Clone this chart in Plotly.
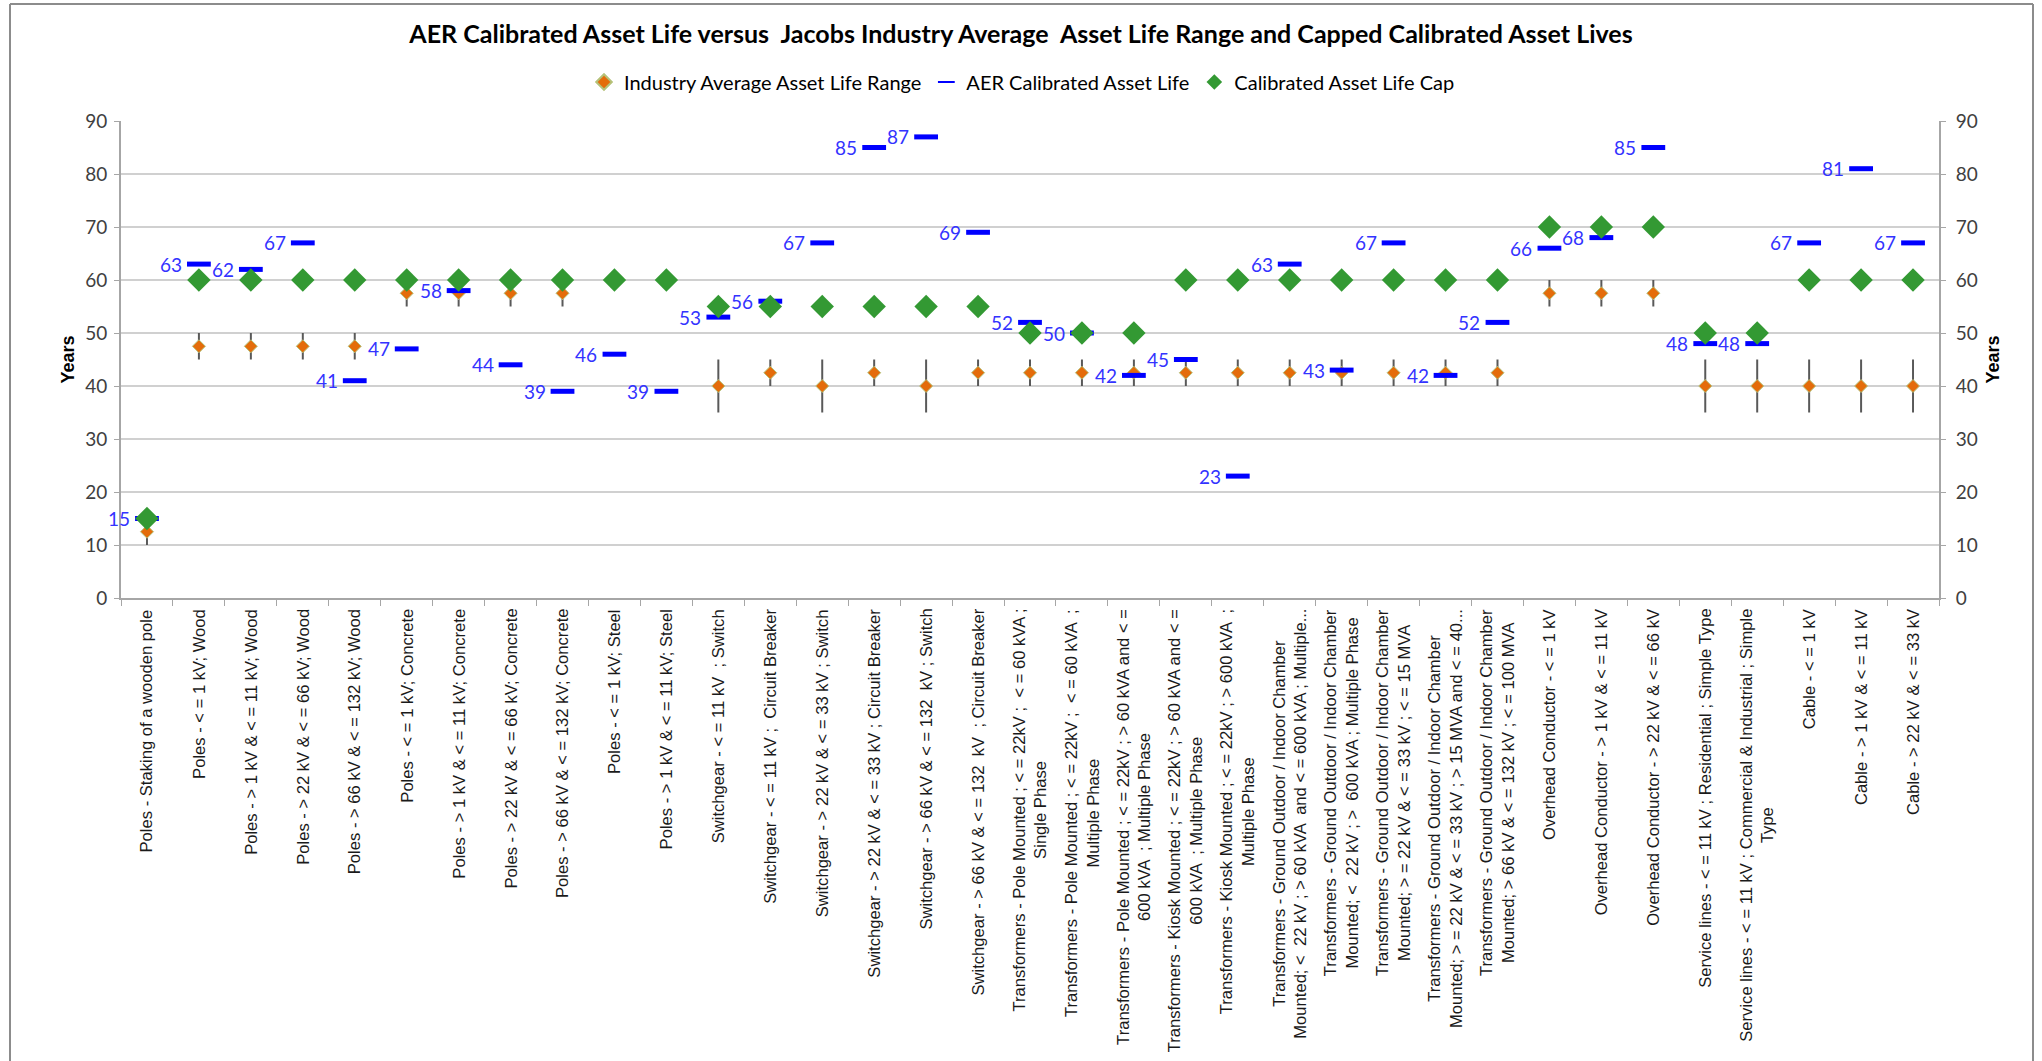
import plotly.graph_objects as go

# ---- data -------------------------------------------------------------
categories = [
    "Poles - Staking of a wooden pole",
    "Poles - < = 1 kV; Wood",
    "Poles - > 1 kV & < = 11 kV; Wood",
    "Poles - > 22 kV & < = 66 kV; Wood",
    "Poles - > 66 kV & < = 132 kV; Wood",
    "Poles - < = 1 kV; Concrete",
    "Poles - > 1 kV & < = 11 kV; Concrete",
    "Poles - > 22 kV & < = 66 kV; Concrete",
    "Poles - > 66 kV & < = 132 kV; Concrete",
    "Poles - < = 1 kV; Steel",
    "Poles - > 1 kV & < = 11 kV; Steel",
    "Switchgear - < = 11 kV  ; Switch",
    "Switchgear - < = 11 kV ;  Circuit Breaker",
    "Switchgear - > 22 kV & < = 33 kV ; Switch",
    "Switchgear - > 22 kV & < = 33 kV ; Circuit Breaker",
    "Switchgear - > 66 kV & < = 132  kV ; Switch",
    "Switchgear - > 66 kV & < = 132  kV  ; Circuit Breaker",
    "Transformers - Pole Mounted ; < = 22kV ;  < = 60 kVA ;<br>Single Phase",
    "Transformers - Pole Mounted ; < = 22kV ;  < = 60 kVA  ;<br>Multiple Phase",
    "Transformers - Pole Mounted ; < = 22kV ; > 60 kVA and < =<br>600 kVA  ; Multiple Phase",
    "Transformers - Kiosk Mounted ; < = 22kV ; > 60 kVA and < =<br>600 kVA  ; Multiple Phase",
    "Transformers - Kiosk Mounted ; < = 22kV ; > 600 kVA  ;<br>Multiple Phase",
    "Transformers - Ground Outdoor / Indoor Chamber<br>Mounted; <  22 kV ; > 60 kVA  and < = 600 kVA ; Multiple...",
    "Transformers - Ground Outdoor / Indoor Chamber<br>Mounted; <  22 kV ; >  600 kVA ; Multiple Phase",
    "Transformers - Ground Outdoor / Indoor Chamber<br>Mounted; > = 22 kV & < = 33 kV ; < = 15 MVA",
    "Transformers - Ground Outdoor / Indoor Chamber<br>Mounted; > = 22 kV & < = 33 kV ; > 15 MVA and < = 40...",
    "Transformers - Ground Outdoor / Indoor Chamber<br>Mounted; > 66 kV & < = 132 kV ; < = 100 MVA",
    "Overhead Conductor - < = 1 kV",
    "Overhead Conductor - > 1 kV & < = 11 kV",
    "Overhead Conductor - > 22 kV & < = 66 kV",
    "Service lines - < = 11 kV ; Residential ; Simple Type",
    "Service lines - < = 11 kV ; Commercial & Industrial ; Simple<br>Type",
    "Cable - < = 1 kV",
    "Cable - > 1 kV & < = 11 kV",
    "Cable - > 22 kV & < = 33 kV",
]

industry_avg = [12.5, 47.5, 47.5, 47.5, 47.5, 57.5, 57.5, 57.5, 57.5, None, None,
                40, 42.5, 40, 42.5, 40, 42.5,
                42.5, 42.5, 42.5, 42.5, 42.5, 42.5, 42.5, 42.5, 42.5, 42.5,
                57.5, 57.5, 57.5, 40, 40, 40, 40, 40]
industry_min = [10, 45, 45, 45, 45, 55, 55, 55, 55, None, None,
                35, 40, 35, 40, 35, 40,
                40, 40, 40, 40, 40, 40, 40, 40, 40, 40,
                55, 55, 55, 35, 35, 35, 35, 35]
industry_max = [15, 50, 50, 50, 50, 60, 60, 60, 60, None, None,
                45, 45, 45, 45, 45, 45,
                45, 45, 45, 45, 45, 45, 45, 45, 45, 45,
                60, 60, 60, 45, 45, 45, 45, 45]

aer_life = [15, 63, 62, 67, 41, 47, 58, 44, 39, 46, 39,
            53, 56, 67, 85, 87, 69,
            52, 50, 42, 45, 23, 63, 43, 67, 42, 52,
            66, 68, 85, 48, 48, 67, 81, 67]

life_cap = [15, 60, 60, 60, 60, 60, 60, 60, 60, 60, 60,
            55, 55, 55, 55, 55, 55,
            50, 50, 50, 60, 60, 60, 60, 60, 60, 60,
            70, 70, 70, 50, 50, 60, 60, 60]

y_ticks = [0, 10, 20, 30, 40, 50, 60, 70, 80, 90]

# ---- geometry of the page ---------------------------------------------
W, H = 2042, 1061
M_L, M_R, M_T, M_B = 121, 103, 121, 463
PLOT_W = W - M_L - M_R
PLOT_H = H - M_T - M_B


def px_to_paper_x(px):
    return (px - M_L) / PLOT_W


def px_to_paper_y(py):
    return (H - M_B - py) / PLOT_H


err_plus = [(hi - a) if a is not None else None for a, hi in zip(industry_avg, industry_max)]
err_minus = [(a - lo) if a is not None else None for a, lo in zip(industry_avg, industry_min)]

LABEL_FONT = "Lato, 'Open Sans', sans-serif"
AXIS_FONT = "'Liberation Sans', Arial, sans-serif"

fig = go.Figure()

fig.add_trace(go.Scatter(
    x=categories, y=industry_avg, mode="markers",
    name="Industry Average Asset Life Range",
    marker=dict(symbol="diamond", size=10, color="#E46C0A",
                line=dict(color="#B5C27A", width=1)),
    error_y=dict(type="data", symmetric=False, array=err_plus, arrayminus=err_minus,
                 color="#595959", thickness=2, width=0),
))

fig.add_trace(go.Scatter(
    x=categories, y=aer_life, mode="markers",
    name="AER Calibrated Asset Life",
    marker=dict(symbol="line-ew", size=17, color="#0000FF",
                line=dict(color="#0000FF", width=5)),
))

# cap markers sit on the secondary (right-hand) axis, which shares the 0-90 scale
fig.add_trace(go.Scatter(
    x=categories, y=life_cap, mode="markers", yaxis="y2",
    name="Calibrated Asset Life Cap",
    marker=dict(symbol="diamond", size=18, color="#339933",
                line=dict(color="#339933", width=0)),
))

annotations = []

# value labels to the left of each AER dash
for cat, v in zip(categories, aer_life):
    annotations.append(dict(
        x=cat, xref="x", y=v, yref="y", text=str(v), showarrow=False,
        xanchor="right", yanchor="middle", xshift=-15,
        font=dict(family=LABEL_FONT, size=19, color="#3333FF"),
    ))

# category labels, rotated and centred under each category
for cat in categories:
    annotations.append(dict(
        x=cat, xref="x", y=0, yref="paper",
        text=cat, textangle=-90, showarrow=False,
        xanchor="center", yanchor="top", yshift=-9, align="center",
        font=dict(family=AXIS_FONT, size=16.6, color="#1A1A1A"),
    ))

# outer chart frame (left, top, right edges)
fx0, fx1 = px_to_paper_x(10), px_to_paper_x(2033)
fy_top, fy_bot = px_to_paper_y(4), px_to_paper_y(H + 20)
shapes = [
    dict(type="line", xref="paper", yref="paper", x0=fx0, x1=fx0, y0=fy_bot, y1=fy_top,
         line=dict(color="#8C8C8C", width=2)),
    dict(type="line", xref="paper", yref="paper", x0=fx0, x1=fx1, y0=fy_top, y1=fy_top,
         line=dict(color="#8C8C8C", width=2)),
    dict(type="line", xref="paper", yref="paper", x0=fx1, x1=fx1, y0=fy_bot, y1=fy_top,
         line=dict(color="#8C8C8C", width=2)),
]

yaxis_common = dict(
    range=[0, 90], tickvals=y_ticks, ticks="outside", ticklen=5, tickcolor="#A6A6A6",
    showline=True, linecolor="#A6A6A6", linewidth=2,
    tickfont=dict(family=LABEL_FONT, size=19, color="#404040"),
    zeroline=False,
)
title_font = dict(family=AXIS_FONT, size=18, color="#000000", weight="bold")

fig.update_layout(
    width=W, height=H,
    margin=dict(l=M_L, r=M_R, t=M_T, b=M_B, autoexpand=False),
    paper_bgcolor="white", plot_bgcolor="white",
    title=dict(
        text="AER Calibrated Asset Life versus  Jacobs Industry Average  Asset Life Range and Capped Calibrated Asset Lives",
        x=0.5, xref="container", xanchor="center",
        y=1 - 34 / H, yref="container", yanchor="middle",
        font=dict(family=LABEL_FONT, size=25, color="#000000", weight="bold"),
    ),
    legend=dict(
        orientation="h", x=px_to_paper_x(1022), xanchor="center",
        y=px_to_paper_y(82), yanchor="middle",
        font=dict(family=LABEL_FONT, size=20, color="#000000"),
        itemsizing="constant", bgcolor="rgba(0,0,0,0)",
    ),
    showlegend=True,
    xaxis=dict(
        type="category", range=[-0.5, len(categories) - 0.5],
        showticklabels=False, ticks="outside", tickson="boundaries",
        ticklen=6, tickcolor="#A6A6A6", showline=True, linecolor="#A6A6A6", linewidth=2,
        showgrid=False, zeroline=False,
    ),
    yaxis=dict(**yaxis_common, side="left", showgrid=True, gridcolor="#D0D0D0", gridwidth=2,
               ticklabelstandoff=3,
               title=dict(text="Years", font=title_font, standoff=6)),
    yaxis2=dict(**yaxis_common, side="right", overlaying="y", showgrid=False,
                ticklabelstandoff=6,
                title=dict(text="Years", font=title_font, standoff=10)),
    annotations=annotations,
    shapes=shapes,
)

fig.write_html("out.html")
